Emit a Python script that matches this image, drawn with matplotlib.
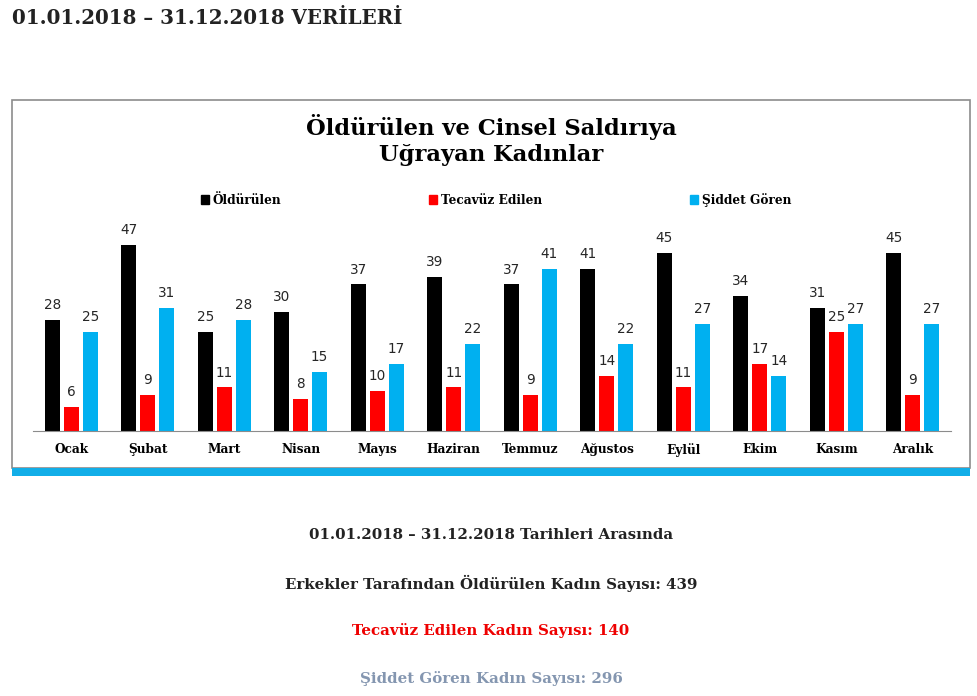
import matplotlib
matplotlib.use("Agg")
import matplotlib.pyplot as plt
from matplotlib.patches import Rectangle, Patch
import numpy as np

months = ["Ocak", "Şubat", "Mart", "Nisan", "Mayıs", "Haziran", "Temmuz",
          "Ağustos", "Eylül", "Ekim", "Kasım", "Aralık"]
oldurulen = [28, 47, 25, 30, 37, 39, 37, 41, 45, 34, 31, 45]
tecavuz = [6, 9, 11, 8, 10, 11, 9, 14, 11, 17, 25, 9]
siddet = [25, 31, 28, 15, 17, 22, 41, 22, 27, 14, 27, 27]
series_names = ["Öldürülen", "Tecavüz Edilen", "Şiddet Gören"]
colors = ["#000000", "#ff0000", "#00b0f0"]

header = "01.01.2018 – 31.12.2018 VERİLERİ"
chart_title = "Öldürülen ve Cinsel Saldırıya\nUğrayan Kadınlar"
summary_lines = ["01.01.2018 – 31.12.2018 Tarihleri Arasında",
                 "Erkekler Tarafından Öldürülen Kadın Sayısı: 439",
                 "Tecavüz Edilen Kadın Sayısı: 140",
                 "Şiddet Gören Kadın Sayısı: 296"]
summary_colors = ["#222222", "#222222", "#ee0000", "#8496b0"]

W, H = 978, 696
fig = plt.figure(figsize=(W / 100, H / 100), dpi=100)
serif = "DejaVu Serif"

def fx(px):
    return px / W

def fy(py):
    return 1 - py / H

# frame and blue strip
fig.patches.append(Rectangle((fx(12), fy(468)), fx(970) - fx(12), fy(100) - fy(468),
                             transform=fig.transFigure, fill=False, edgecolor="#8c8c8c", lw=1.2))
fig.patches.append(Rectangle((fx(12), fy(476)), fx(970) - fx(12), fy(468) - fy(476),
                             transform=fig.transFigure, facecolor="#12aee8", edgecolor="none"))

ax = fig.add_axes([fx(33), fy(431), fx(951) - fx(33), fy(233) - fy(431)])
x = np.arange(len(months))
step = 0.248
bw = 0.196
data = [oldurulen, tecavuz, siddet]
for i, (vals, c) in enumerate(zip(data, colors)):
    pos = x + (i - 1) * step
    ax.bar(pos, vals, width=bw, color=c, label=series_names[i])
    for p, v in zip(pos, vals):
        ax.text(p, v + 2.0, str(v), ha="center", va="bottom", fontsize=9.8,
                family="DejaVu Sans", color="#262626")

ax.set_xlim(-0.5, len(months) - 0.5)
ax.set_ylim(0, 50)
ax.set_yticks([])
ax.set_xticks(x)
ax.set_xticklabels(months, family=serif, fontweight="bold", fontsize=8.7)
ax.tick_params(axis="x", length=0, pad=9)
for s in ["top", "right", "left"]:
    ax.spines[s].set_visible(False)
ax.spines["bottom"].set_color("#8c8c8c")
ax.patch.set_alpha(0)

handles = [Patch(color=c) for c in colors]
fig.legend(handles, series_names, loc="center", bbox_to_anchor=(fx(496), fy(200)),
           ncol=3, frameon=False, handlelength=0.7, handleheight=0.7,
           handletextpad=0.3, columnspacing=12.2,
           prop={"family": serif, "weight": "bold", "size": 8.7})

fig.text(fx(491), fy(140), chart_title, ha="center", va="center", family=serif,
         fontweight="bold", fontsize=16.3, linespacing=1.2)

fig.text(fx(12), fy(18), header, ha="left", va="center", family=serif,
         fontweight="bold", fontsize=14.3, color="#222222")

for yy, txt, c in zip([535, 583, 631, 679], summary_lines, summary_colors):
    fig.text(fx(491), fy(yy), txt, ha="center", va="center", family=serif,
             fontweight="bold", fontsize=10.8, color=c)

fig.savefig("out.png", dpi=100, facecolor="white")
